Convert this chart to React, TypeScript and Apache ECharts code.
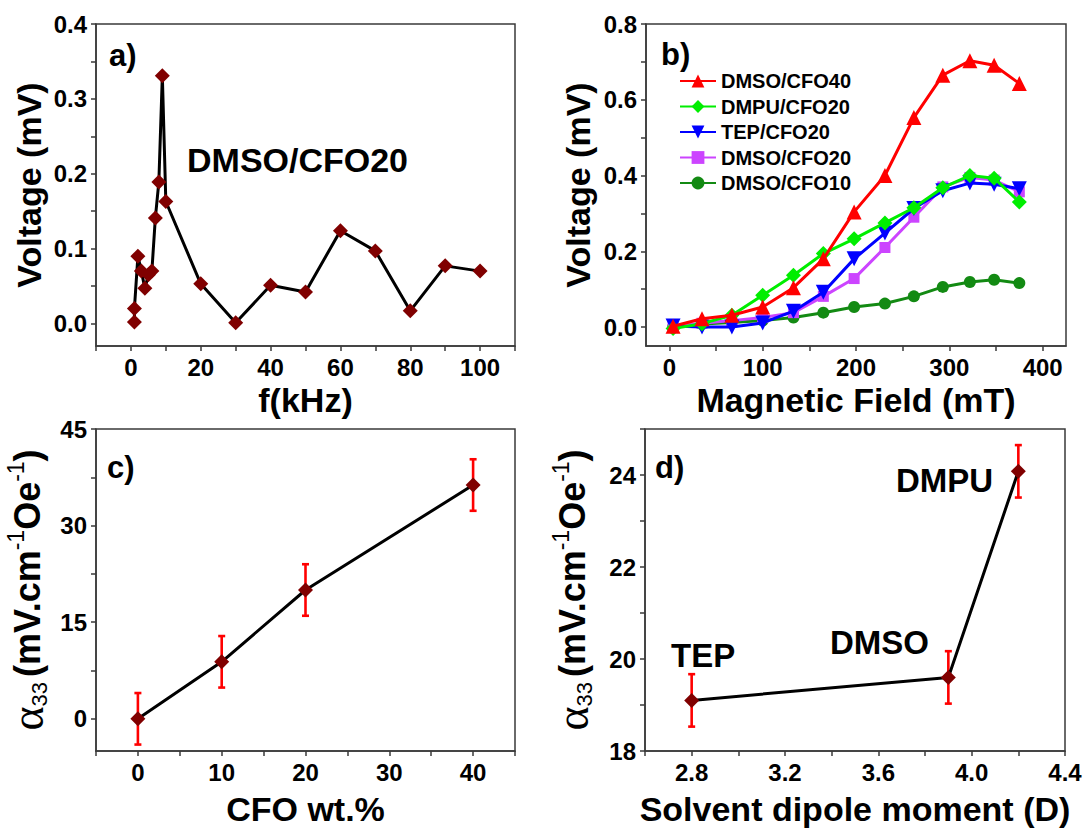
import React, { useEffect, useRef } from "react";
import * as echarts from "echarts";

// ---------- Data ----------
// Panel a: voltage vs frequency (DMSO/CFO20)
const aFreq = [1, 1, 2, 3, 4, 5, 6, 7, 8, 9, 10, 20, 30, 40, 50, 60, 70, 80, 90, 100];
const aVolt = [0.002, 0.02, 0.09, 0.07, 0.047, 0.065, 0.07, 0.141, 0.189, 0.331, 0.163, 0.053, 0.001, 0.051, 0.042, 0.124, 0.097, 0.017, 0.077, 0.07];

// Panel b: voltage vs magnetic field
const bField = [4, 35, 67, 100, 133, 165, 198, 231, 262, 293, 322, 348, 375];
const bCFO40 = [0.002, 0.022, 0.031, 0.053, 0.104, 0.18, 0.304, 0.4, 0.553, 0.665, 0.703, 0.691, 0.643];
const bDMPU20 = [-0.004, 0.009, 0.031, 0.084, 0.137, 0.194, 0.233, 0.275, 0.315, 0.368, 0.4, 0.393, 0.33];
const bTEP20 = [0.003, 0.0, 0.0, 0.011, 0.042, 0.092, 0.18, 0.248, 0.313, 0.36, 0.38, 0.377, 0.365];
const bDMSO20 = [0.002, 0.01, 0.017, 0.025, 0.038, 0.081, 0.128, 0.21, 0.29, 0.37, 0.395, 0.388, 0.357];
const bDMSO10 = [0.0, 0.008, 0.012, 0.017, 0.025, 0.038, 0.053, 0.062, 0.081, 0.106, 0.119, 0.125, 0.116];
const bNames = ["DMSO/CFO40", "DMPU/CFO20", "TEP/CFO20", "DMSO/CFO20", "DMSO/CFO10"];

// Panel c: alpha33 vs CFO wt.%
const cWt = [0, 10, 20, 40];
const cAlpha = [0, 8.85, 20, 36.3];
const cErr = [4, 4, 4, 4];

// Panel d: alpha33 vs solvent dipole moment
const dDipole = [2.8, 3.9, 4.2];
const dAlpha = [19.1, 19.6, 24.08];
const dErr = [0.57, 0.57, 0.57];
const dSolvents = ["TEP", "DMSO", "DMPU"];

// Tick values
const aXTicks = [-10, 0, 10, 20, 30, 40, 50, 60, 70, 80, 90, 100, 110];
const aXLabels = [0, 20, 40, 60, 80, 100];
const aYTicks = [0, 0.05, 0.1, 0.15, 0.2, 0.25, 0.3, 0.35, 0.4];
const aYLabels = [0, 0.1, 0.2, 0.3, 0.4];
const bXTicks = [0, 50, 100, 150, 200, 250, 300, 350, 400];
const bXLabels = [0, 100, 200, 300, 400];
const bYTicks = [0, 0.1, 0.2, 0.3, 0.4, 0.5, 0.6, 0.7, 0.8];
const bYLabels = [0, 0.2, 0.4, 0.6, 0.8];
const cXTicks = [-5, 0, 5, 10, 15, 20, 25, 30, 35, 40, 45];
const cXLabels = [0, 10, 20, 30, 40];
const cYTicks = [0, 7.5, 15, 22.5, 30, 37.5, 45];
const cYLabels = [0, 15, 30, 45];
const dXTicks = [2.6, 2.8, 3.0, 3.2, 3.4, 3.6, 3.8, 4.0, 4.2, 4.4];
const dXLabels = [2.8, 3.2, 3.6, 4.0, 4.4];
const dYTicks = [18, 19, 20, 21, 22, 23, 24, 25];
const dYLabels = [18, 20, 22, 24];

const FONT = "'Liberation Sans', Arial, sans-serif";
const AXIS_COLOR = "#3a3a3a";
const MARK = "#800000";

function axisBase(min: number, max: number, ticks: number[], labels: number[], fmt: (v: number) => string, gridIndex: number) {
  return {
    type: "value",
    gridIndex,
    min,
    max,
    axisLine: { show: true, onZero: false, lineStyle: { color: AXIS_COLOR, width: 1.5 } },
    axisTick: { show: true, inside: false, length: 5, customValues: ticks, lineStyle: { color: AXIS_COLOR, width: 1.5 } },
    axisLabel: {
      customValues: labels,
      formatter: fmt,
      color: "#000",
      fontSize: 24,
      fontWeight: "bold",
      fontFamily: FONT,
      margin: 9,
    },
    splitLine: { show: false },
    nameLocation: "middle",
    nameTextStyle: { fontSize: 34, fontWeight: "bold", fontFamily: FONT, color: "#000" },
  };
}

const alphaName = "{g|α}{s|33}{t| }{n|(mV.cm}{p|-1}{n|Oe}{p|-1}{n|)}";
const alphaRich = {
  n: { fontSize: 36, fontWeight: "bold", fontFamily: FONT, color: "#000", lineHeight: 46 },
  g: { fontSize: 46, fontWeight: "normal", fontFamily: "'Liberation Serif', serif", color: "#000", lineHeight: 46 },
  s: { fontSize: 22, fontWeight: "normal", fontFamily: FONT, color: "#000", verticalAlign: "bottom", lineHeight: 46 },
  t: { fontSize: 18, fontFamily: FONT, color: "#000", lineHeight: 46 },
  p: { fontSize: 23, fontWeight: "normal", fontFamily: FONT, color: "#000", verticalAlign: "top", lineHeight: 46 },
};

function errorBars(xs: number[], ys: number[], es: number[], axisIndex: number) {
  return {
    type: "custom",
    xAxisIndex: axisIndex,
    yAxisIndex: axisIndex,
    z: 2,
    data: xs.map((x, i) => [x, ys[i], es[i]]),
    encode: { x: 0, y: 1 },
    renderItem: (params: any, api: any) => {
      const x = api.value(0);
      const y = api.value(1);
      const e = api.value(2);
      const top = api.coord([x, y + e]);
      const bot = api.coord([x, y - e]);
      const cw = 3.5;
      const style = { stroke: "#ff0000", lineWidth: 2.6 };
      return {
        type: "group",
        children: [
          { type: "line", shape: { x1: top[0], y1: top[1], x2: bot[0], y2: bot[1] }, style },
          { type: "line", shape: { x1: top[0] - cw, y1: top[1], x2: top[0] + cw, y2: top[1] }, style },
          { type: "line", shape: { x1: bot[0] - cw, y1: bot[1], x2: bot[0] + cw, y2: bot[1] }, style },
        ],
      };
    },
  };
}

function textEl(text: string, x: number, y: number, size: number) {
  return {
    type: "text",
    x,
    y,
    style: {
      text,
      fill: "#000",
      font: `bold ${size}px ${FONT}`,
      fontSize: size,
      fontWeight: "bold",
      fontFamily: FONT,
      textAlign: "left",
      textVerticalAlign: "middle",
      align: "left",
      verticalAlign: "middle",
    },
    z: 10,
  };
}

export default function App() {
  const ref = useRef<HTMLDivElement>(null);
  useEffect(() => {
    if (!ref.current) return;
    const chart = echarts.init(ref.current, undefined, { renderer: "svg" });
    const f1 = (v: number) => v.toFixed(1);
    const f0 = (v: number) => String(Math.round(v));

    const bColors = ["#ff0000", "#00ee00", "#0000ff", "#cc44ff", "#138a13"];
    const bSymbols = ["triangle", "diamond", "triangle", "rect", "circle"];
    const bSizes = [15, 15, 15, 11, 12];
    const bRot = [0, 0, 180, 0, 0];
    const bData = [bCFO40, bDMPU20, bTEP20, bDMSO20, bDMSO10];

    const bSeries = [4, 3, 2, 1, 0].map((k) => ({
      type: "line",
      name: bNames[k],
      xAxisIndex: 1,
      yAxisIndex: 1,
      data: bField.map((x, i) => [x, bData[k][i]]),
      symbol: bSymbols[k],
      symbolSize: bSizes[k],
      symbolRotate: bRot[k],
      lineStyle: { color: bColors[k], width: 3 },
      itemStyle: { color: bColors[k] },
      z: 3 + (4 - k),
    }));

    const gridStyle = { show: true, borderColor: AXIS_COLOR, borderWidth: 1.5, backgroundColor: "transparent" };
    const alphaStyle = { rich: alphaRich };

    const option: any = {
      animation: false,
      backgroundColor: "#ffffff",
      textStyle: { fontFamily: FONT },
      grid: [
        { left: 96, top: 24, width: 419, height: 322, ...gridStyle },
        { left: 646, top: 24, width: 420, height: 322, ...gridStyle },
        { left: 96, top: 429, width: 419, height: 322, ...gridStyle },
        { left: 645, top: 429, width: 420, height: 322, ...gridStyle },
      ],
      xAxis: [
        { ...axisBase(-10, 110, aXTicks, aXLabels, f0, 0), name: "f(kHz)", nameGap: 37 },
        { ...axisBase(-25, 425, bXTicks, bXLabels, f0, 1), name: "Magnetic Field (mT)", nameGap: 37 },
        { ...axisBase(-5, 45, cXTicks, cXLabels, f0, 2), name: "CFO wt.%", nameGap: 41 },
        { ...axisBase(2.6, 4.4, dXTicks, dXLabels, f1, 3), name: "Solvent dipole moment (D)", nameGap: 41 },
      ],
      yAxis: [
        { ...axisBase(-0.03, 0.4, aYTicks, aYLabels, f1, 0), name: "Voltage (mV)", nameGap: 50 },
        { ...axisBase(-0.05, 0.8, bYTicks, bYLabels, f1, 1), name: "Voltage (mV)", nameGap: 51 },
        {
          ...axisBase(-5, 45, cYTicks, cYLabels, f0, 2),
          name: alphaName,
          nameGap: 46,
          nameTextStyle: alphaStyle,
        },
        {
          ...axisBase(18, 25, dYTicks, dYLabels, f0, 3),
          name: alphaName,
          nameGap: 50,
          nameTextStyle: alphaStyle,
        },
      ],
      legend: {
        data: bNames,
        orient: "vertical",
        left: 679,
        top: 71,
        itemWidth: 36,
        itemHeight: 16,
        itemGap: 5.5,
        textStyle: { fontSize: 20, fontWeight: "bold", fontFamily: FONT, color: "#000", lineHeight: 20 },
        padding: 0,
      },
      graphic: [
        textEl("a)", 109, 55, 31),
        textEl("b)", 661, 54, 31),
        textEl("c)", 107, 467, 31),
        textEl("d)", 655, 467, 31),
        textEl("DMSO/CFO20", 187, 160, 34),
        textEl(dSolvents[0], 671, 655, 33),
        textEl(dSolvents[1], 830, 642, 33),
        textEl(dSolvents[2], 896, 480, 33),
      ],
      series: [
        {
          type: "line",
          name: "a",
          xAxisIndex: 0,
          yAxisIndex: 0,
          data: aFreq.map((x, i) => [x, aVolt[i]]),
          symbol: "diamond",
          symbolSize: 15,
          lineStyle: { color: "#000", width: 3 },
          itemStyle: { color: MARK },
          z: 3,
        },
        ...bSeries,
        errorBars(cWt, cAlpha, cErr, 2),
        {
          type: "line",
          name: "c",
          xAxisIndex: 2,
          yAxisIndex: 2,
          data: cWt.map((x, i) => [x, cAlpha[i]]),
          symbol: "diamond",
          symbolSize: 15,
          lineStyle: { color: "#000", width: 3 },
          itemStyle: { color: MARK },
          z: 3,
        },
        errorBars(dDipole, dAlpha, dErr, 3),
        {
          type: "line",
          name: "d",
          xAxisIndex: 3,
          yAxisIndex: 3,
          data: dDipole.map((x, i) => [x, dAlpha[i]]),
          symbol: "diamond",
          symbolSize: 15,
          lineStyle: { color: "#000", width: 3 },
          itemStyle: { color: MARK },
          z: 3,
        },
      ],
    };
    chart.setOption(option);
    return () => chart.dispose();
  }, []);
  return (
    <div
      ref={ref}
      style={{ position: "absolute", left: 0, top: 0, width: 1085, height: 828, background: "#fff" }}
    />
  );
}
